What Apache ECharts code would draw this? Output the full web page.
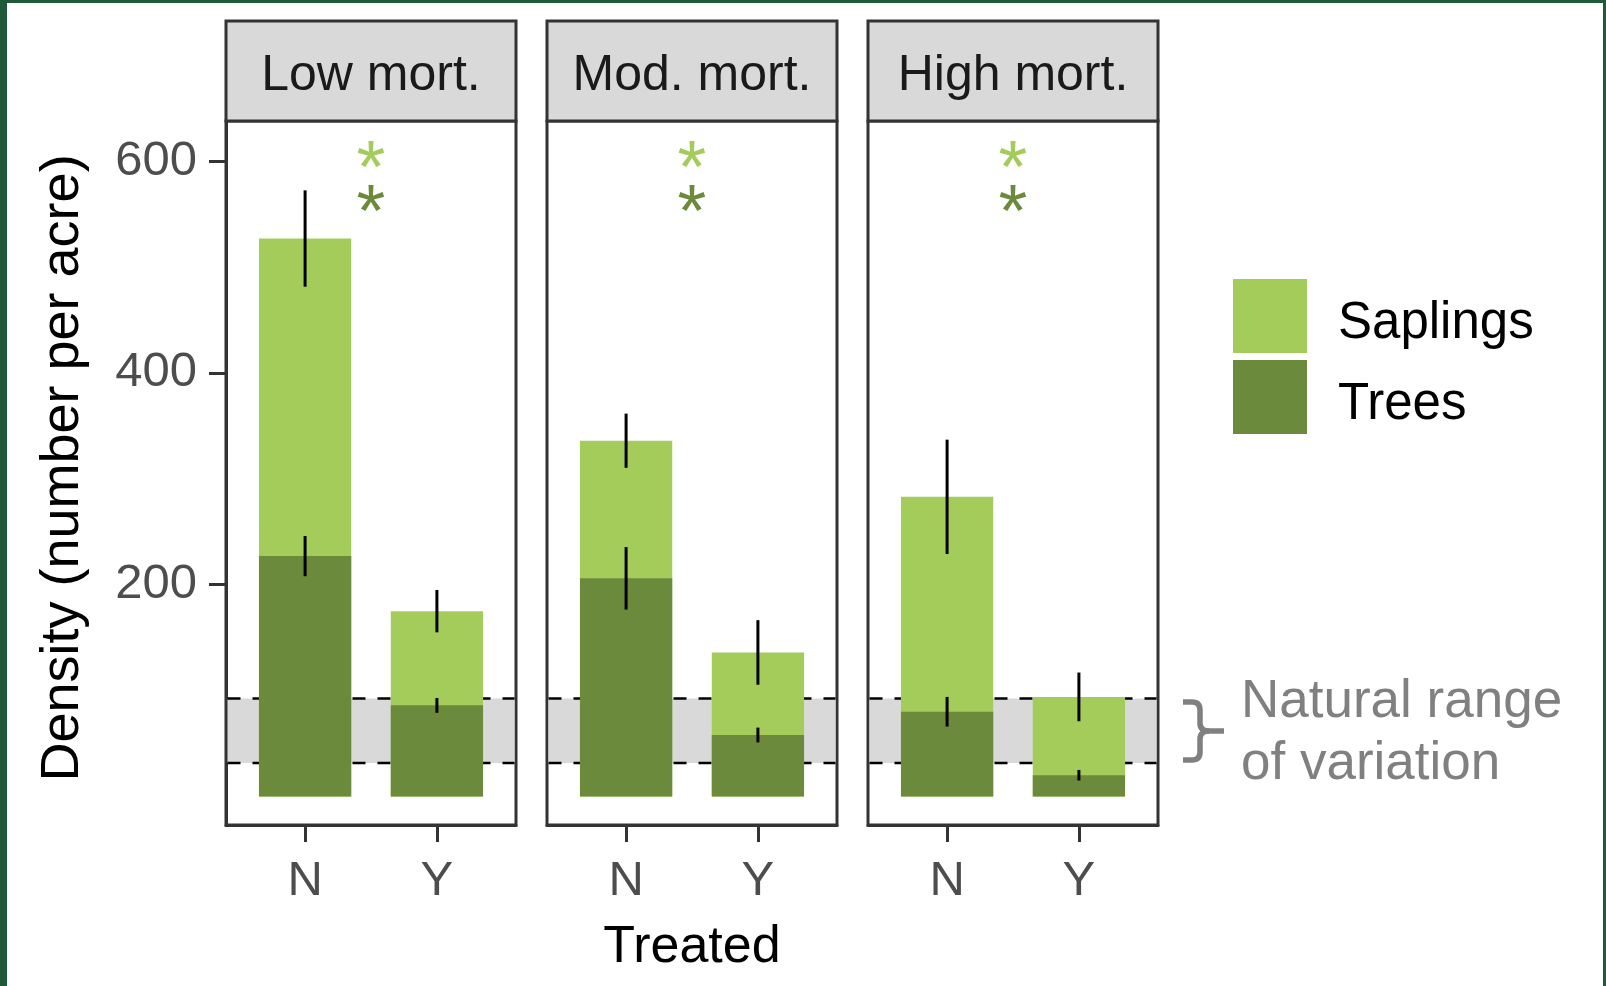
<!DOCTYPE html>
<html>
<head>
<meta charset="utf-8">
<title>Density by mortality and treatment</title>
<script src="https://cdn.jsdelivr.net/npm/echarts@6/dist/echarts.min.js"></script>
<style>
  html, body { margin: 0; padding: 0; background: #fff; }
  #chart { width: 1606px; height: 986px; }
</style>
</head>
<body>
<div id="chart"></div>
<script>
// ---- data ----
const panels = ['Low mort.', 'Mod. mort.', 'High mort.'];
const treated = ['N', 'Y'];
const treatedPos = [1, 2];

// bar heights (number per acre), one pair [N, Y] per panel
const saplings = [[527, 175], [336, 136], [283, 94]];
const saplingsErr = [[45.5, 20], [25.6, 30.5], [54, 23]];
const trees = [[227, 86], [206, 58], [80, 20]];
const treesErr = [[19, 7], [29.5, 7], [14, 5]];

// natural range of variation band
const naturalRange = [31.5, 92.4];

// significance stars (drawn between N and Y)
const starX = 1.5;
const starSaplings = [606, 606, 606];
const starTrees = [565, 565, 565];

const yTicks = [200, 400, 600];

// ---- styles ----
const LIGHT = '#a3cc5b';
const DARK = '#6c8a3b';
const FONT = '"Liberation Sans", Arial, sans-serif';
const BAR_WIDTH = 0.7;

const gridLefts = [226, 547, 868];
const GRID_W = 290;
const GRID_TOP = 121;
const GRID_H = 704;
const BORDER = 3;

/**
 * 柱子
 */
const renderBar = (params, api) => {
  const x = api.value(0);
  const v = api.value(1);
  const p0 = api.coord([x - BAR_WIDTH / 2, v]);
  const p1 = api.coord([x + BAR_WIDTH / 2, 0]);
  return {
    type: 'rect',
    shape: { x: p0[0], y: p0[1], width: p1[0] - p0[0], height: p1[1] - p0[1] },
    style: { fill: api.visual('color') },
  };
};

/**
 * 误差线
 */
const renderErr = (params, api) => {
  const x = api.value(0);
  const lo = api.coord([x, api.value(1)]);
  const hi = api.coord([x, api.value(2)]);
  return {
    type: 'line',
    shape: { x1: lo[0], y1: lo[1], x2: hi[0], y2: hi[1] },
    style: { stroke: '#000', lineWidth: 3 },
  };
};

/**
 * 自然变化范围（灰带 + 虚线），留出边框
 */
const renderBand = (params, api) => {
  const cs = params.coordSys;
  const x0 = cs.x + BORDER / 2;
  const x1 = cs.x + cs.width - BORDER / 2;
  const yLo = api.coord([1, api.value(1)])[1];
  const yHi = api.coord([1, api.value(2)])[1];
  const dash = { stroke: '#000', lineWidth: 2.5, lineDash: [13, 12] };
  return {
    type: 'group',
    children: [
      { type: 'rect', shape: { x: x0, y: yHi, width: x1 - x0, height: yLo - yHi }, style: { fill: '#d9d9d9' } },
      { type: 'line', shape: { x1: x0, y1: yHi, x2: x1, y2: yHi }, style: dash },
      { type: 'line', shape: { x1: x0, y1: yLo, x2: x1, y2: yLo }, style: dash },
    ],
  };
};

const renderStar = (color) => (params, api) => {
  const p = api.coord([api.value(0), api.value(1)]);
  return {
    type: 'text',
    x: p[0],
    y: p[1] + 17,
    style: { text: '*', fill: color, font: '74px ' + FONT, align: 'center', verticalAlign: 'middle' },
  };
};

const grids = [];
const xAxes = [];
const yAxes = [];
const series = [];
const graphics = [];

panels.forEach((name, i) => {
  grids.push({
    left: gridLefts[i], top: GRID_TOP, width: GRID_W, height: GRID_H,
    show: true, backgroundColor: '#fff', borderColor: '#333', borderWidth: BORDER,
    outerBoundsMode: 'none', containLabel: false,
  });

  xAxes.push({
    type: 'value', gridIndex: i, min: 0.4, max: 2.6,
    splitLine: { show: false },
    axisLine: { show: true, onZero: false, lineStyle: { color: '#333', width: BORDER } },
    axisTick: { show: true, customValues: treatedPos, length: 17, lineStyle: { color: '#333', width: 3 } },
    axisLabel: {
      show: true, customValues: treatedPos, margin: 32,
      fontSize: 49, color: '#4d4d4d', fontFamily: FONT,
      formatter: (v) => treated[Math.round(v) - 1] || '',
    },
  });

  yAxes.push({
    type: 'value', gridIndex: i, min: -27, max: 638,
    show: i === 0,
    splitLine: { show: false },
    axisLine: { show: true, onZero: false, lineStyle: { color: '#333', width: BORDER } },
    axisTick: { show: true, customValues: yTicks, length: 17, lineStyle: { color: '#333', width: 3 } },
    axisLabel: { show: true, customValues: yTicks, margin: 29, fontSize: 49, color: '#4d4d4d', fontFamily: FONT },
  });

  const axisRef = { xAxisIndex: i, yAxisIndex: i };

  series.push({
    type: 'custom', ...axisRef, z: 1, silent: true,
    renderItem: renderBand,
    encode: { x: 0, y: [1, 2] },
    data: [[starX, naturalRange[0], naturalRange[1]]],
  });

  series.push({
    type: 'custom', name: 'Saplings', ...axisRef, z: 2,
    itemStyle: { color: LIGHT },
    renderItem: renderBar,
    encode: { x: 0, y: 1 },
    data: treatedPos.map((x, j) => [x, saplings[i][j]]),
  });

  series.push({
    type: 'custom', name: 'Trees', ...axisRef, z: 3,
    itemStyle: { color: DARK },
    renderItem: renderBar,
    encode: { x: 0, y: 1 },
    data: treatedPos.map((x, j) => [x, trees[i][j]]),
  });

  const errData = [];
  treatedPos.forEach((x, j) => {
    errData.push([x, saplings[i][j] - saplingsErr[i][j], saplings[i][j] + saplingsErr[i][j]]);
    errData.push([x, trees[i][j] - treesErr[i][j], trees[i][j] + treesErr[i][j]]);
  });
  series.push({
    type: 'custom', ...axisRef, z: 4, silent: true,
    renderItem: renderErr,
    encode: { x: 0, y: [1, 2] },
    data: errData,
  });

  series.push({
    type: 'custom', ...axisRef, z: 5, silent: true,
    renderItem: renderStar(LIGHT),
    encode: { x: 0, y: 1 },
    data: [[starX, starSaplings[i]]],
  });
  series.push({
    type: 'custom', ...axisRef, z: 5, silent: true,
    renderItem: renderStar(DARK),
    encode: { x: 0, y: 1 },
    data: [[starX, starTrees[i]]],
  });

  // facet strip
  graphics.push({
    type: 'rect', x: gridLefts[i], y: 21, z: 10,
    shape: { x: 0, y: 0, width: GRID_W, height: GRID_TOP - 21 },
    style: { fill: '#d9d9d9', stroke: '#333', lineWidth: BORDER },
  });
  graphics.push({
    type: 'text', x: gridLefts[i] + GRID_W / 2, y: 76, z: 11,
    style: { text: name, font: '50px ' + FONT, fill: '#1a1a1a', align: 'center', verticalAlign: 'middle' },
  });
});

// axis titles
graphics.push({
  type: 'text', x: 63, y: 468, rotation: Math.PI / 2, z: 11,
  style: { text: 'Density (number per acre)', font: '54px ' + FONT, fill: '#000', align: 'center', verticalAlign: 'middle' },
});
graphics.push({
  type: 'text', x: 692, y: 948, z: 11,
  style: { text: 'Treated', font: '52px ' + FONT, fill: '#000', align: 'center', verticalAlign: 'middle' },
});

// natural range annotation: brace built from lines and curves
const braceStyle = { stroke: '#808080', lineWidth: 5.5, fill: null };
graphics.push({
  type: 'group', x: 1183, y: 699, z: 11,
  children: [
    { type: 'line', shape: { x1: 0, y1: 3, x2: 9, y2: 3 }, style: braceStyle },
    { type: 'bezierCurve', shape: { x1: 9, y1: 3, cpx1: 17, cpy1: 3, x2: 17, y2: 11 }, style: braceStyle },
    { type: 'line', shape: { x1: 17, y1: 11, x2: 17, y2: 24 }, style: braceStyle },
    { type: 'bezierCurve', shape: { x1: 17, y1: 24, cpx1: 17, cpy1: 32, x2: 26, y2: 32 }, style: braceStyle },
    { type: 'line', shape: { x1: 26, y1: 32, x2: 41, y2: 32 }, style: braceStyle },
    { type: 'bezierCurve', shape: { x1: 26, y1: 32, cpx1: 17, cpy1: 32, x2: 17, y2: 40 }, style: braceStyle },
    { type: 'line', shape: { x1: 17, y1: 40, x2: 17, y2: 53 }, style: braceStyle },
    { type: 'bezierCurve', shape: { x1: 17, y1: 53, cpx1: 17, cpy1: 61, x2: 9, y2: 61 }, style: braceStyle },
    { type: 'line', shape: { x1: 9, y1: 61, x2: 0, y2: 61 }, style: braceStyle },
  ],
});
graphics.push({
  type: 'text', x: 1241, y: 702, z: 11,
  style: { text: 'Natural range', font: '53px ' + FONT, fill: '#808080', align: 'left', verticalAlign: 'middle' },
});
graphics.push({
  type: 'text', x: 1241, y: 764, z: 11,
  style: { text: 'of variation', font: '53px ' + FONT, fill: '#808080', align: 'left', verticalAlign: 'middle' },
});

// dark green frame
const FRAME = '#1e5a3a';
graphics.push({ type: 'rect', x: 0, y: 0, z: 20, shape: { x: 0, y: 0, width: 7, height: 986 }, style: { fill: FRAME } });
graphics.push({ type: 'rect', x: 0, y: 0, z: 20, shape: { x: 0, y: 0, width: 1606, height: 3 }, style: { fill: FRAME } });
graphics.push({ type: 'rect', x: 1603, y: 0, z: 20, shape: { x: 0, y: 0, width: 3, height: 986 }, style: { fill: FRAME } });

const chart = echarts.init(document.getElementById('chart'));
chart.setOption({
  animation: false,
  backgroundColor: '#fff',
  textStyle: { fontFamily: FONT },
  legend: {
    data: [
      { name: 'Saplings', itemStyle: { color: LIGHT, borderWidth: 0 } },
      { name: 'Trees', itemStyle: { color: DARK, borderWidth: 0 } },
    ],
    orient: 'vertical', left: 1228, top: 274,
    itemWidth: 74, itemHeight: 74, itemGap: 7, icon: 'rect',
    selectedMode: false,
    // leading blank line nudges the label down to where the figure has it
    formatter: (name) => '\n' + name,
    textStyle: { fontSize: 51, lineHeight: 16, color: '#000', fontFamily: FONT, padding: [0, 0, 0, 26] },
  },
  grid: grids,
  xAxis: xAxes,
  yAxis: yAxes,
  series: series,
  graphic: graphics,
});
</script>
</body>
</html>
